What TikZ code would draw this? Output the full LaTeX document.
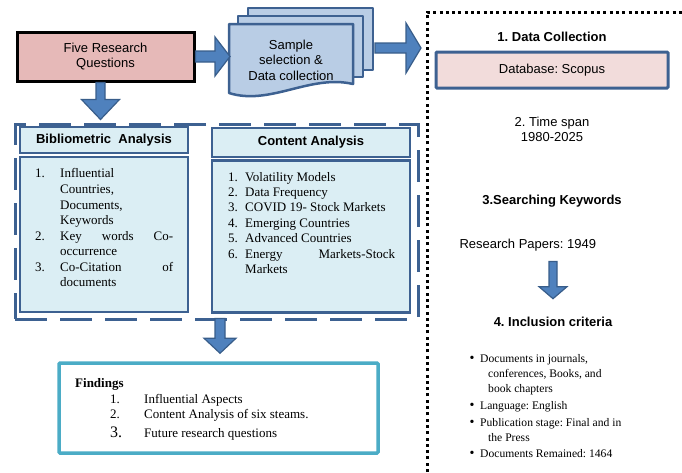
\documentclass[tikz,border=0pt]{standalone}
\usepackage{fontspec}
\setmainfont{Liberation Serif}
\setsansfont{Liberation Sans}
\usetikzlibrary{calc}
\frenchspacing

\definecolor{boxblue}{RGB}{61,97,145}
\definecolor{pagefill}{RGB}{185,205,229}
\definecolor{panefill}{RGB}{219,238,244}
\definecolor{rqfill}{RGB}{230,185,184}
\definecolor{dbfill}{RGB}{242,220,219}
\definecolor{arrowfill}{RGB}{79,129,189}
\definecolor{arrowline}{RGB}{56,93,138}
\definecolor{findline}{RGB}{75,172,198}

\tikzstyle{sans} = [font=\sffamily\fontsize{13}{15.5}\selectfont, align=center]
\tikzstyle{sans bold} = [font=\sffamily\bfseries\fontsize{13}{15.5}\selectfont, align=center]
\tikzstyle{serif line} = [anchor=base west, inner sep=0pt, font=\fontsize{13}{15.5}\selectfont]
\tikzstyle{small line} = [anchor=base west, inner sep=0pt, font=\fontsize{11.6}{15.5}\selectfont]
\tikzstyle{rqbox} = [draw=black, line width=3pt, fill=rqfill, sans]
\tikzstyle{dbbox} = [draw=boxblue, line width=3pt, fill=dbfill, rounded corners=1pt, sans]
\tikzstyle{panel} = [draw=boxblue, line width=2.5pt, fill=panefill]
\tikzstyle{page} = [draw=boxblue, line width=2.5pt, fill=pagefill, line join=round]
\tikzstyle{dashbox} = [draw=boxblue, line width=3pt, dash pattern=on 32pt off 13pt]
\tikzstyle{findbox} = [draw=findline, line width=3.5pt, fill=white, rounded corners=1pt]
\tikzstyle{dotted frame} = [draw=black, line width=3pt, dash pattern=on 3pt off 3.3pt]
\tikzstyle{block} = [draw=arrowline, line width=1.2pt, fill=arrowfill, line join=miter]

\tikzset{
  block right/.style n args={3}{to path={let \p1=(\tikztostart), \p2=(\tikztotarget) in
    (\x1,\y1+#1) -- (\x2-#3,\y1+#1) -- (\x2-#3,\y1+#2) -- (\x2,\y1)
    -- (\x2-#3,\y1-#2) -- (\x2-#3,\y1-#1) -- (\x1,\y1-#1) -- cycle}},
  block down/.style n args={3}{to path={let \p1=(\tikztostart), \p2=(\tikztotarget) in
    (\x1-#1,\y1) -- (\x1-#1,\y2+#3) -- (\x1-#2,\y2+#3) -- (\x1,\y2)
    -- (\x1+#2,\y2+#3) -- (\x1+#1,\y2+#3) -- (\x1+#1,\y1) -- cycle}}
}

\def\bibNums{177/1., 240/2., 271/3.}
\def\bibLines{177/Influential, 193/{Countries,}, 209/{Documents,}, 224/Keywords, 240/{\makebox[113pt][s]{Key words Co-}}, 255/occurrence, 271/{\makebox[113pt][s]{Co-Citation of}}, 286/documents}
\def\caNums{181/1., 196/2., 211/3., 227/4., 242/5., 258/6.}
\def\caLines{181/Volatility Models, 196/Data Frequency, 211/COVID 19- Stock Markets, 227/Emerging Countries, 242/Advanced Countries, 258/{\makebox[150pt][s]{Energy Markets-Stock}}, 273/Markets}
\def\findLines{403/1./Influential Aspects, 418/2./Content Analysis of six steams.}
\def\inclBullets{362, 409, 426, 457}
\def\inclLines{362/480/{Documents in journals,}, 377/488/{conferences, Books, and}, 392/488/book chapters, 409/480/Language: English, 426/480/Publication stage: Final and in, 441/488/the Press, 457/480/Documents Remained: 1464}

\begin{document}
\begin{tikzpicture}[x=1pt, y=-1pt]
  \useasboundingbox (0,0) rectangle (682,472);

  % research questions and sample
  \node[rqbox, minimum width=177pt, minimum height=49pt] (rq) at (105.5,56.5) {Five Research\\Questions};

  \path[page] (248,8) rectangle (373,70);
  \path[page] (238,16) rectangle (363,77);
  \path[page] (229,24) -- (353,24) -- (353,84) .. controls (310,74) and (270,106) .. (229,93) -- cycle;
  \node[sans] (sample) at (291,60) {Sample\\selection \&\\Data collection};
  \coordinate (docs-in) at (230,57);
  \coordinate (docs-out) at (375,48);
  \coordinate (dc-in) at (421,48);

  % analysis block
  \node[dashbox, minimum width=403pt, minimum height=195pt] (analysis) at (216.5,221.5) {};
  \node[panel, sans bold, minimum width=168pt, minimum height=26pt] (bib-head) at (104,140) {Bibliometric\ \ Analysis};
  \node[panel, minimum width=168pt, minimum height=155pt] (bib-body) at (104,234.5) {};
  \node[panel, sans bold, minimum width=198pt, minimum height=29pt] (ca-head) at (311,142.5) {Content Analysis};
  \node[panel, minimum width=198pt, minimum height=152pt] (ca-body) at (311,236.3) {};

  \foreach \y/\num in \bibNums
    \node[serif line] (bibn-\y) at (35,\y) {\num};
  \foreach \y/\txt in \bibLines
    \node[serif line] (bib-\y) at (60,\y) {\txt};
  \foreach \y/\num in \caNums
    \node[serif line] (can-\y) at (228,\y) {\num};
  \foreach \y/\txt in \caLines
    \node[serif line] (ca-\y) at (245,\y) {\txt};

  % findings
  \node[findbox, minimum width=319pt, minimum height=90pt] (findings) at (218.5,408) {};
  \node[serif line, font=\bfseries\fontsize{13}{15.5}\selectfont] (find-title) at (75,387) {Findings};
  \foreach \y/\num/\txt in \findLines {
    \node[serif line] (findn-\y) at (110,\y) {\num};
    \node[serif line] (find-\y) at (144,\y) {\txt};
    }
  \node[serif line, font=\fontsize{16}{18}\selectfont] (findn-437) at (110,437) {3.};
  \node[serif line] (find-437) at (144,437) {Future research questions};

  % data collection panel
  \draw[dotted frame] (427,472) -- (427,12) -- (682,12);
  \node[sans bold] (dc) at (552,37) {1. Data Collection};
  \node[dbbox, minimum width=232pt, minimum height=36pt] (db) at (552,70) {Database: Scopus};
  \node[sans] (span) at (552,129.5) {2. Time span\\1980-2025};
  \node[sans bold] (kw) at (552,201) {3.Searching Keywords};
  \node[sans, anchor=west] (papers) at (456,245) {Research Papers: 1949};
  \node[sans bold] (incl) at (553,322) {4. Inclusion criteria};

  \foreach \y in \inclBullets
    \node[small line, font=\fontsize{14}{15.5}\selectfont] (bul-\y) at (469.5,\y) {\textbullet};
  \foreach \y/\x/\txt in \inclLines
    \node[small line] (incl-\y) at (\x,\y) {\txt};

  % block arrows
  \path[block] (rq.east) to[block right={5.5pt}{19.5pt}{15pt}] (rq.east -| docs-in);
  \path[block] (docs-out) to[block right={5pt}{25pt}{15pt}] (dc-in);
  \path[block] ($(rq.south)+(-5,0)$) to[block down={4.5pt}{19pt}{20pt}] ($(rq.south |- analysis.north)+(-5,-3)$);
  \path[block] ($(analysis.south)+(3.5,-2)$) to[block down={5pt}{16pt}{15pt}] ($(findings.north)+(1.5,-8)$);
  \path[block] ($(papers.south -| incl.north)+(0,7)$) to[block down={4pt}{14pt}{12pt}] ($(incl.north)+(0,-15)$);

\end{tikzpicture}
\end{document}
